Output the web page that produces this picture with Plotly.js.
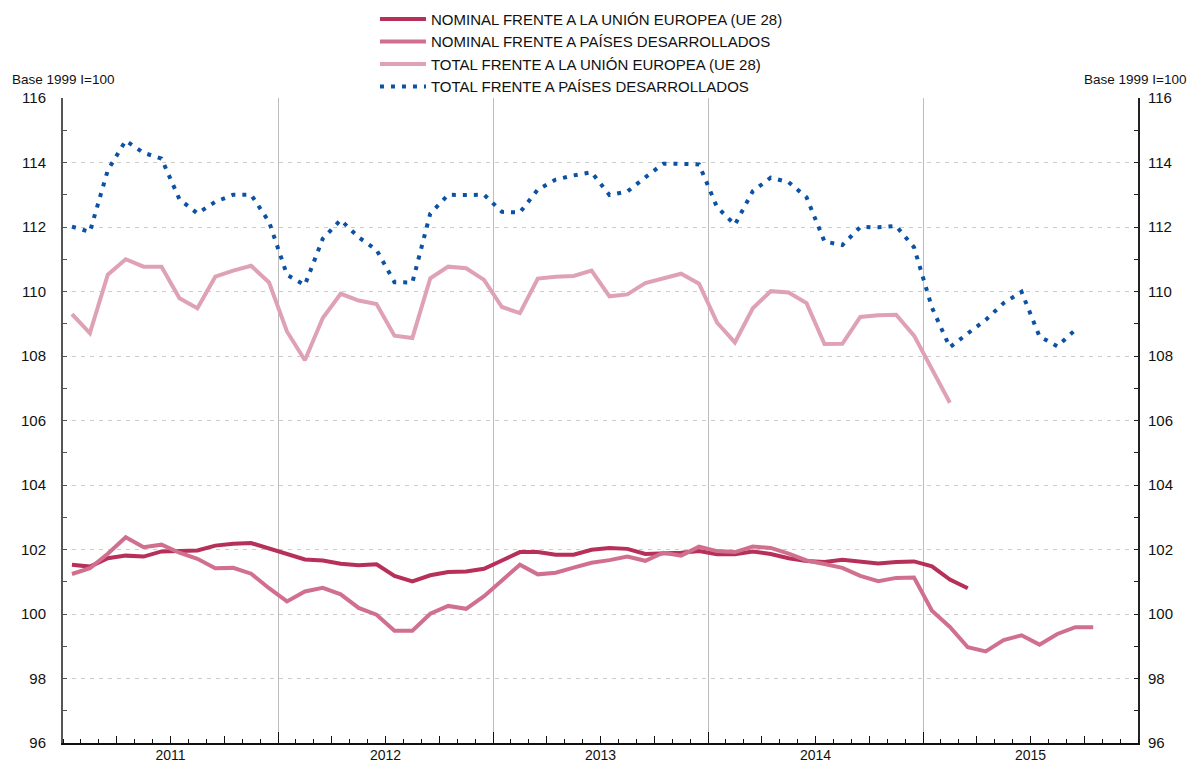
<!DOCTYPE html>
<html>
<head>
<meta charset="utf-8">
<script src="https://cdn.plot.ly/plotly-3.0.1.min.js"></script>
<style>
html,body{margin:0;padding:0;background:#fff;}
#chart{width:1190px;height:763px;}
</style>
</head>
<body>
<div id="chart"></div>
<script>
// Months from Jan 2011 (index 0) to Dec 2015 (index 59)
const years = ['2011', '2012', '2013', '2014', '2015'];
const monthsPerYear = 12;

// NOMINAL FRENTE A LA UNIÓN EUROPEA (UE 28) — Jan 2011 .. Mar 2015
const nominalUE = [
  101.53, 101.47, 101.73, 101.81, 101.78, 101.94, 101.95, 101.97, 102.12, 102.18, 102.20, 102.04,
  101.87, 101.69, 101.66, 101.56, 101.51, 101.54, 101.18, 101.01, 101.20, 101.30, 101.32, 101.40,
  101.66, 101.92, 101.92, 101.84, 101.84, 101.99, 102.05, 102.02, 101.86, 101.87, 101.90, 101.95,
  101.85, 101.85, 101.94, 101.86, 101.73, 101.64, 101.61, 101.68, 101.61, 101.57, 101.61, 101.63,
  101.48, 101.07, 100.80
];
// NOMINAL FRENTE A PAÍSES DESARROLLADOS — Jan 2011 .. Oct 2015
const nominalDes = [
  101.24, 101.42, 101.87, 102.38, 102.07, 102.15, 101.90, 101.71, 101.42, 101.43, 101.25, 100.80,
  100.39, 100.70, 100.81, 100.61, 100.19, 99.98, 99.48, 99.48, 100.01, 100.25, 100.16, 100.55,
  101.04, 101.53, 101.23, 101.28, 101.44, 101.59, 101.67, 101.78, 101.65, 101.90, 101.81, 102.09,
  101.95, 101.92, 102.09, 102.05, 101.87, 101.66, 101.55, 101.43, 101.18, 101.02, 101.12, 101.13,
  100.10, 99.60, 98.97, 98.84, 99.19, 99.34, 99.05, 99.38, 99.59, 99.59
];
// TOTAL FRENTE A LA UNIÓN EUROPEA (UE 28) — Jan 2011 .. Feb 2015
const totalUE = [
  109.30, 108.71, 110.52, 111.00, 110.77, 110.77, 109.79, 109.48, 110.46, 110.65, 110.80, 110.28,
  108.76, 107.87, 109.18, 109.93, 109.72, 109.61, 108.63, 108.56, 110.41, 110.77, 110.72, 110.36,
  109.52, 109.33, 110.40, 110.46, 110.48, 110.65, 109.85, 109.91, 110.26, 110.41, 110.55, 110.24,
  109.04, 108.42, 109.48, 110.01, 109.97, 109.64, 108.37, 108.38, 109.21, 109.26, 109.28, 108.63,
  107.58, 106.55
];
// TOTAL FRENTE A PAÍSES DESARROLLADOS — Jan 2011 .. Sep 2015
const totalDes = [
  112.01, 111.85, 113.76, 114.68, 114.30, 114.12, 112.86, 112.42, 112.78, 113.00, 113.00, 112.16,
  110.52, 110.20, 111.64, 112.22, 111.68, 111.29, 110.29, 110.28, 112.42, 113.00, 112.99, 113.00,
  112.47, 112.45, 113.16, 113.47, 113.60, 113.70, 112.99, 113.10, 113.54, 113.96, 113.96, 113.94,
  112.62, 112.07, 113.11, 113.53, 113.39, 112.92, 111.55, 111.44, 112.00, 111.99, 112.03, 111.37,
  109.50, 108.27, 108.70, 109.12, 109.64, 109.99, 108.61, 108.30, 108.81
];

const seriesNames = [
  'NOMINAL FRENTE A LA UNIÓN EUROPEA (UE 28)',
  'NOMINAL FRENTE A PAÍSES DESARROLLADOS',
  'TOTAL FRENTE A LA UNIÓN EUROPEA (UE 28)',
  'TOTAL FRENTE A PAÍSES DESARROLLADOS'
];
const yTicks = [96, 98, 100, 102, 104, 106, 108, 110, 112, 114, 116];
const axisNote = 'Base 1999 I=100';

const nMonths = years.length * monthsPerYear;
const xOf = arr => arr.map((_, i) => i + 0.5); // month centre
const yearCenters = years.map((_, k) => k * monthsPerYear + monthsPerYear / 2);
const yearBounds = years.map((_, k) => k * monthsPerYear).concat([nMonths]);
const quarterBounds = [];
for (let m = 0; m <= nMonths; m += 3) quarterBounds.push(m);

const FONT = 'Liberation Sans, Arial, Helvetica, sans-serif';

// Each trace sits on an axis pair so that all the (identical-range) overlay axes are drawn
const traces = [
  {x: xOf(nominalUE), y: nominalUE, name: seriesNames[0], mode: 'lines',
   xaxis: 'x', yaxis: 'y', line: {color: '#B6305A', width: 4}},
  {x: xOf(nominalDes), y: nominalDes, name: seriesNames[1], mode: 'lines',
   xaxis: 'x2', yaxis: 'y', line: {color: '#D0708E', width: 4}},
  {x: xOf(totalUE), y: totalUE, name: seriesNames[2], mode: 'lines',
   xaxis: 'x3', yaxis: 'y', line: {color: '#DFA2B4', width: 4}},
  {x: xOf(totalDes), y: totalDes, name: seriesNames[3], mode: 'lines',
   xaxis: 'x', yaxis: 'y2', line: {color: '#0C52A4', width: 4, dash: '4px,7px'}}
];

const layout = {
  width: 1190, height: 763,
  margin: {l: 63, r: 52, t: 98, b: 20, autoexpand: false},
  paper_bgcolor: '#fff', plot_bgcolor: '#fff',
  font: {family: FONT, size: 15, color: '#111'},
  showlegend: true,
  legend: {
    x: 0.2902, y: 1.1475, xanchor: 'left', yanchor: 'top',
    orientation: 'v', bgcolor: 'rgba(0,0,0,0)',
    font: {family: FONT, size: 15, color: '#111'},
    tracegroupgap: 0, itemwidth: 46
  },
  xaxis: {
    range: [0, nMonths], fixedrange: true,
    tickmode: 'array', tickvals: yearCenters, ticktext: years,
    ticks: '', showgrid: false, zeroline: false,
    showline: true, linecolor: '#111', linewidth: 2,
    ticklabelstandoff: -2,
    tickfont: {family: FONT, size: 14, color: '#111'},
    minor: {tickmode: 'linear', tick0: 0, dtick: 1, ticks: 'inside', ticklen: 4,
            tickcolor: '#111', tickwidth: 1, showgrid: false}
  },
  xaxis2: {
    overlaying: 'x', anchor: 'y', range: [0, nMonths], fixedrange: true,
    tickmode: 'array', tickvals: quarterBounds, ticks: 'inside', ticklen: 7,
    tickcolor: '#111', tickwidth: 1, showticklabels: false,
    showgrid: false, zeroline: false, showline: false
  },
  xaxis3: {
    overlaying: 'x', anchor: 'y', range: [0, nMonths], fixedrange: true,
    tickmode: 'array', tickvals: yearBounds, ticks: 'inside', ticklen: 11,
    tickcolor: '#111', tickwidth: 1, showticklabels: false,
    showgrid: true, gridcolor: '#bdbdbd', gridwidth: 1,
    zeroline: false, showline: false
  },
  yaxis: {
    range: [96, 116], fixedrange: true,
    tickmode: 'array', tickvals: yTicks,
    ticks: 'inside', ticklen: 4, tickcolor: '#555', tickwidth: 1,
    showline: true, linecolor: '#555', linewidth: 2,
    showgrid: true, gridcolor: '#cccccc', gridwidth: 1, griddash: '4px,5px',
    zeroline: false, ticklabelstandoff: 12,
    tickfont: {family: FONT, size: 15, color: '#111'},
    minor: {tickmode: 'linear', tick0: 96, dtick: 1, ticks: 'inside', ticklen: 4,
            tickcolor: '#555', tickwidth: 1, showgrid: false}
  },
  yaxis2: {
    overlaying: 'y', side: 'right', anchor: 'x',
    range: [96, 116], fixedrange: true,
    tickmode: 'array', tickvals: yTicks,
    ticks: 'inside', ticklen: 4, tickcolor: '#222', tickwidth: 1,
    showline: true, linecolor: '#222', linewidth: 2,
    showgrid: false, zeroline: false, ticklabelstandoff: 5,
    tickfont: {family: FONT, size: 15, color: '#111'},
    minor: {tickmode: 'linear', tick0: 96, dtick: 1, ticks: 'inside', ticklen: 4,
            tickcolor: '#222', tickwidth: 1, showgrid: false}
  },
  annotations: [
    {text: axisNote, xref: 'paper', yref: 'paper', x: -0.049, y: 1.028,
     xanchor: 'left', yanchor: 'middle', showarrow: false,
     font: {family: FONT, size: 13.5, color: '#111'}},
    {text: axisNote, xref: 'paper', yref: 'paper', x: 1.0465, y: 1.028,
     xanchor: 'right', yanchor: 'middle', showarrow: false,
     font: {family: FONT, size: 13.5, color: '#111'}}
  ]
};

Plotly.newPlot('chart', traces, layout, {displayModeBar: false, staticPlot: true});
</script>
</body>
</html>
